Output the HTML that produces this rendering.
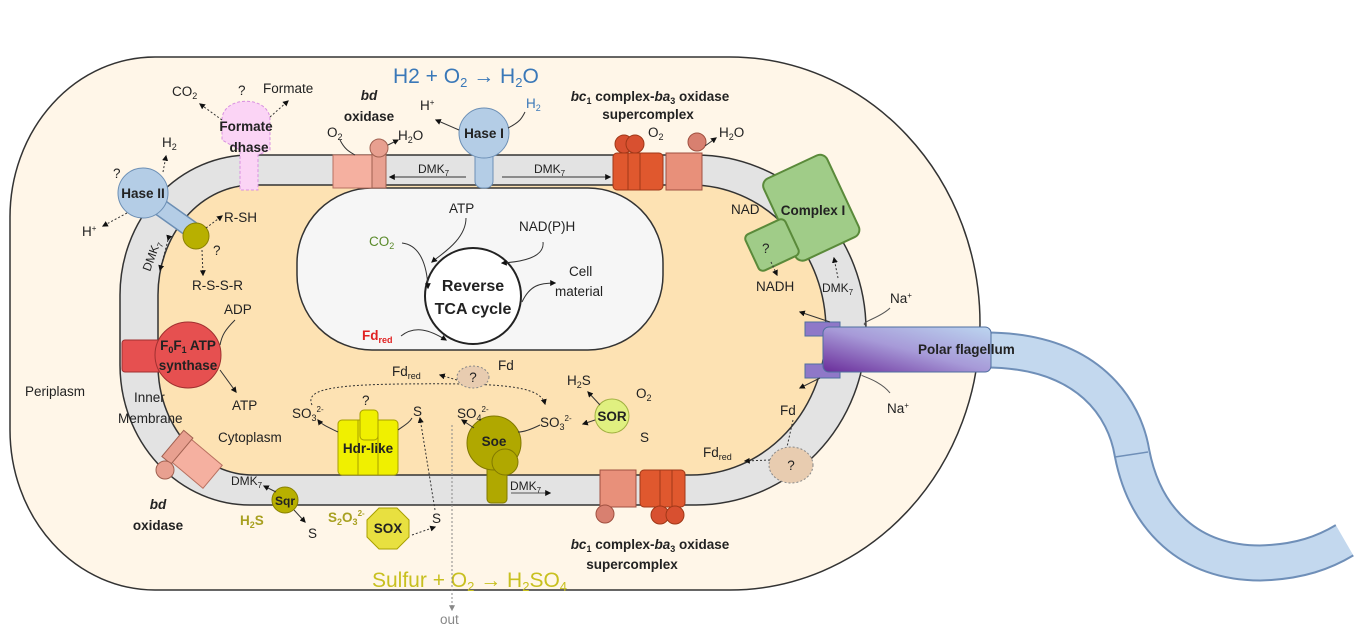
<!DOCTYPE html>
<html><head><meta charset="utf-8"><style>
body{margin:0;background:#fff}
svg{display:block;font-family:"Liberation Sans",sans-serif}
text{font-size:13.5px;fill:#222}
.b{font-weight:bold}
</style></head><body>
<svg width="1362" height="644" viewBox="0 0 1362 644" xmlns="http://www.w3.org/2000/svg">
<defs>
<marker id="a" viewBox="0 0 10 10" refX="8" refY="5" markerWidth="6" markerHeight="6" orient="auto"><path d="M0,0L10,5L0,10z" fill="#111"/></marker>
<marker id="g" viewBox="0 0 10 10" refX="8" refY="5" markerWidth="6" markerHeight="6" orient="auto"><path d="M0,0L10,5L0,10z" fill="#888"/></marker>
<linearGradient id="fl" x1="0" y1="1" x2="1" y2="0"><stop offset="0" stop-color="#6a2c9a"/><stop offset="0.5" stop-color="#a79ad8"/><stop offset="1" stop-color="#bcd6f0"/></linearGradient>
</defs>
<!-- flagellum tail -->
<path d="M985,350 C1090,350 1125,410 1132,453 C1145,520 1190,563 1260,563 C1300,562 1325,552 1345,540" fill="none" stroke="#6f8fb8" stroke-width="37"/>
<path d="M985,350 C1090,350 1125,410 1132,453 C1145,520 1190,563 1260,563 C1300,562 1325,552 1345,540" fill="none" stroke="#c3d8ee" stroke-width="33"/>
<line x1="1115" y1="457" x2="1148" y2="452" stroke="#6f8fb8" stroke-width="1.5"/>
<rect x="1346" y="515" width="20" height="50" fill="#fff" transform="rotate(-30 1356 540)"/>
<!-- outer cell -->
<path d="M155,57 L730,57 A250,266.5 0 0 1 730,590 L155,590 A145,160 0 0 1 10,430 L10,217 A145,160 0 0 1 155,57 Z" fill="#fff6e8" stroke="#333" stroke-width="1.5"/>
<!-- membrane -->
<path d="M250,155 L696,155 A170,175 0 0 1 696,505 L250,505 A130,140 0 0 1 120,365 L120,295 A130,140 0 0 1 250,155 Z" fill="#e3e3e3" stroke="#333" stroke-width="1.5"/>
<path d="M253,185 L691,185 A135,145 0 0 1 691,475 L253,475 A95,110 0 0 1 158,365 L158,295 A95,110 0 0 1 253,185 Z" fill="#fde2b3" stroke="#333" stroke-width="1.5"/>
<!-- inner box -->
<rect x="297" y="188" width="366" height="162" rx="75" fill="#f6f6f6" stroke="#333" stroke-width="1.5"/>
<circle cx="473" cy="296" r="48" fill="#fff" stroke="#222" stroke-width="2"/>
<text x="473" y="291" text-anchor="middle" class="b" style="font-size:16px">Reverse</text>
<text x="473" y="314" text-anchor="middle" class="b" style="font-size:16px">TCA cycle</text>
<text x="449" y="213">ATP</text><text x="519" y="231">NAD(P)H</text>
<text x="369" y="246" style="fill:#5a8a2a">CO<tspan style="font-size:9px" dy="3">2</tspan></text>
<text x="569" y="276">Cell</text><text x="555" y="296">material</text>
<text x="362" y="340" class="b" style="fill:#e02020">Fd<tspan style="font-size:9px" dy="3">red</tspan></text>
<path d="M466,218 C466,240 440,255 432,262" fill="none" stroke="#333" marker-end="url(#a)"/>
<path d="M543,242 C545,258 520,262 502,263" fill="none" stroke="#333" marker-end="url(#a)"/>
<path d="M402,243 C420,245 427,265 428,288" fill="none" stroke="#333" marker-end="url(#a)"/>
<path d="M522,302 C530,285 540,283 555,283" fill="none" stroke="#333" marker-end="url(#a)"/>
<path d="M401,336 C415,325 430,330 446,340" fill="none" stroke="#333" marker-end="url(#a)"/>
<!-- titles -->
<text x="393" y="83" style="font-size:21px;fill:#3a78b8">H2 + O<tspan style="font-size:13px" dy="4">2</tspan><tspan dy="-4"> → H</tspan><tspan style="font-size:13px" dy="4">2</tspan><tspan dy="-4">O</tspan></text>
<text x="372" y="587" style="font-size:21px;fill:#c8c020">Sulfur + O<tspan style="font-size:13px" dy="4">2</tspan><tspan dy="-4"> → H</tspan><tspan style="font-size:13px" dy="4">2</tspan><tspan dy="-4">SO</tspan><tspan style="font-size:13px" dy="4">4</tspan></text>
<!-- formate dhase -->
<path d="M222,120 C222,95 270,95 270,120 L270,150 L258,155 L258,190 L240,190 L240,150 L222,140z" fill="#fbd4f5" stroke="#d890e0" stroke-dasharray="3,2"/>
<text x="246" y="131" text-anchor="middle" class="b">Formate</text><text x="249" y="152" text-anchor="middle" class="b">dhase</text>
<text x="172" y="96">CO<tspan style="font-size:9px" dy="3">2</tspan></text><text x="238" y="95">?</text><text x="263" y="93">Formate</text>
<path d="M222,120 L200,104" fill="none" stroke="#333" stroke-dasharray="2,2" marker-end="url(#a)"/>
<path d="M270,117 L288,101" fill="none" stroke="#333" stroke-dasharray="2,2" marker-end="url(#a)"/>
<!-- Hase II -->
<path d="M150,200 L195,232" stroke="#6c8fb5" stroke-width="18"/><path d="M150,200 L195,232" stroke="#b4cde6" stroke-width="15"/>
<circle cx="143" cy="193" r="25" fill="#b4cde6" stroke="#6c8fb5"/>
<text x="143" y="198" text-anchor="middle" class="b">Hase II</text>
<circle cx="196" cy="236" r="13" fill="#b8b000" stroke="#888000"/>
<text x="162" y="147">H<tspan style="font-size:9px" dy="3">2</tspan></text><text x="113" y="178">?</text>
<text x="82" y="236">H<tspan style="font-size:8px" dy="-5">+</tspan></text>
<path d="M163,172 L166,156" stroke="#333" stroke-dasharray="2,2" marker-end="url(#a)"/>
<path d="M127,213 L103,226" stroke="#333" stroke-dasharray="2,2" marker-end="url(#a)"/>
<text x="224" y="222">R-SH</text><text x="213" y="255">?</text><text x="192" y="290">R-S-S-R</text>
<path d="M206,228 L222,216" stroke="#333" stroke-dasharray="2,2" marker-end="url(#a)"/>
<path d="M202,250 L203,275" stroke="#333" stroke-dasharray="2,2" marker-end="url(#a)"/>
<text x="150" y="272" transform="rotate(-70 150 272)" style="font-size:12px">DMK<tspan style="font-size:8px" dy="3">7</tspan></text>
<path d="M168,240 L160,270" stroke="#333" stroke-dasharray="2,2" marker-end="url(#a)" marker-start="url(#a)"/>
<!-- bd oxidase top -->
<rect x="333" y="155" width="52" height="33" fill="#f5b0a0" stroke="#b87060"/>
<rect x="372" y="150" width="14" height="38" fill="#e8a090" stroke="#a06050"/>
<circle cx="379" cy="148" r="9" fill="#e8a090" stroke="#a06050"/>
<text x="369" y="100" text-anchor="middle" class="b" style="font-style:italic">bd</text>
<text x="369" y="121" text-anchor="middle" class="b">oxidase</text>
<text x="327" y="137">O<tspan style="font-size:9px" dy="3">2</tspan></text><text x="398" y="140">H<tspan style="font-size:9px" dy="3">2</tspan><tspan dy="-3">O</tspan></text>
<path d="M340,140 C345,150 350,152 355,155" fill="none" stroke="#333"/>
<path d="M388,145 L398,140" stroke="#333" marker-end="url(#a)"/>
<!-- Hase I -->
<rect x="475" y="150" width="18" height="38" rx="7" fill="#b4cde6" stroke="#6c8fb5"/>
<circle cx="484" cy="133" r="25" fill="#b4cde6" stroke="#6c8fb5"/>
<text x="484" y="138" text-anchor="middle" class="b">Hase I</text>
<text x="420" y="110">H<tspan style="font-size:8px" dy="-5">+</tspan></text>
<text x="526" y="108" style="fill:#3a78b8">H<tspan style="font-size:9px" dy="3">2</tspan></text>
<path d="M459,130 L436,120" stroke="#333" marker-end="url(#a)"/>
<path d="M508,128 C520,122 522,118 525,112" fill="none" stroke="#333"/>
<text x="418" y="173" style="font-size:12px">DMK<tspan style="font-size:8px" dy="3">7</tspan></text>
<text x="534" y="173" style="font-size:12px">DMK<tspan style="font-size:8px" dy="3">7</tspan></text>
<path d="M466,177 L390,177" stroke="#333" marker-end="url(#a)"/>
<path d="M502,177 L610,177" stroke="#333" marker-end="url(#a)"/>
<!-- bc1 top -->
<rect x="613" y="153" width="50" height="37" rx="4" fill="#e0582e" stroke="#a03818"/>
<line x1="628" y1="153" x2="628" y2="190" stroke="#a03818"/><line x1="640" y1="153" x2="640" y2="190" stroke="#a03818"/>
<circle cx="624" cy="144" r="9" fill="#d85030" stroke="#a03818"/><circle cx="635" cy="144" r="9" fill="#d85030" stroke="#a03818"/>
<rect x="666" y="153" width="36" height="37" fill="#e8907a" stroke="#a05040"/>
<circle cx="697" cy="142" r="9" fill="#d88070" stroke="#a05040"/>
<text x="650" y="101" text-anchor="middle" class="b"><tspan style="font-style:italic">bc</tspan><tspan style="font-size:9px" dy="3">1</tspan><tspan dy="-3"> complex-</tspan><tspan style="font-style:italic">ba</tspan><tspan style="font-size:9px" dy="3">3</tspan><tspan dy="-3"> oxidase</tspan></text>
<text x="648" y="119" text-anchor="middle" class="b">supercomplex</text>
<text x="648" y="137">O<tspan style="font-size:9px" dy="3">2</tspan></text><text x="719" y="137">H<tspan style="font-size:9px" dy="3">2</tspan><tspan dy="-3">O</tspan></text>
<path d="M705,146 L716,138" stroke="#333" marker-end="url(#a)"/>
<!-- complex I -->
<g transform="rotate(-25 810 205)"><rect x="775" y="163" width="70" height="90" rx="8" fill="#a0cc88" stroke="#5a8a3a" stroke-width="2"/></g>
<g transform="rotate(-25 772 245)"><rect x="750" y="225" width="44" height="40" rx="5" fill="#a0cc88" stroke="#5a8a3a" stroke-width="2"/></g>
<text x="813" y="215" text-anchor="middle" class="b">Complex I</text>
<text x="762" y="253">?</text>
<text x="731" y="214">NAD</text><text x="756" y="291">NADH</text>
<text x="822" y="292" style="font-size:12px">DMK<tspan style="font-size:8px" dy="3">7</tspan></text>
<path d="M771,262 L777,275" stroke="#333" stroke-dasharray="2,2" marker-end="url(#a)"/>
<path d="M838,278 L834,258" stroke="#333" stroke-dasharray="2,2" marker-end="url(#a)"/>
<!-- flagellum motor -->
<rect x="805" y="322" width="35" height="14" fill="#8f78c8" stroke="#4f6f9f"/>
<rect x="805" y="364" width="35" height="14" fill="#8f78c8" stroke="#4f6f9f"/>
<rect x="823" y="327" width="168" height="45" rx="6" fill="url(#fl)" stroke="#4f6f9f"/>
<text x="918" y="354" class="b">Polar flagellum</text>
<text x="890" y="303">Na<tspan style="font-size:8px" dy="-5">+</tspan></text>
<text x="887" y="413">Na<tspan style="font-size:8px" dy="-5">+</tspan></text>
<path d="M890,308 C880,318 860,322 865,325" fill="none" stroke="#555"/>
<path d="M890,393 C880,380 860,376 862,375" fill="none" stroke="#555"/>
<path d="M830,322 L800,312" stroke="#333" marker-end="url(#a)"/>
<path d="M820,378 L800,388" stroke="#333" marker-end="url(#a)"/>
<text x="780" y="415">Fd</text><text x="703" y="457">Fd<tspan style="font-size:9px" dy="3">red</tspan></text>
<ellipse cx="791" cy="465" rx="22" ry="18" fill="#e8ccb0" stroke="#888" stroke-dasharray="2,2"/>
<text x="791" y="470" text-anchor="middle">?</text>
<path d="M793,420 L787,447" stroke="#333" stroke-dasharray="2,2"/>
<path d="M770,460 L745,461" stroke="#333" stroke-dasharray="2,2" marker-end="url(#a)"/>
<!-- ATP synthase -->
<rect x="122" y="340" width="60" height="32" rx="3" fill="#e65050" stroke="#a03030"/>
<circle cx="188" cy="355" r="33" fill="#e65050" stroke="#a03030"/>
<text x="188" y="350" text-anchor="middle" class="b">F<tspan style="font-size:9px" dy="3">0</tspan><tspan dy="-3">F</tspan><tspan style="font-size:9px" dy="3">1</tspan><tspan dy="-3"> ATP</tspan></text>
<text x="188" y="370" text-anchor="middle" class="b">synthase</text>
<text x="224" y="314">ADP</text><text x="232" y="410">ATP</text>
<path d="M235,320 C225,330 222,335 220,345" fill="none" stroke="#333"/>
<path d="M220,370 L236,392" stroke="#333" marker-end="url(#a)"/>
<text x="25" y="396">Periplasm</text>
<text x="134" y="402">Inner</text><text x="118" y="423">Membrane</text>
<text x="218" y="442">Cytoplasm</text>
<!-- bd oxidase bottom -->
<g transform="rotate(40 195 462)"><rect x="172" y="447" width="46" height="30" fill="#f5b0a0" stroke="#b87060"/><rect x="166" y="445" width="12" height="34" fill="#e8a090" stroke="#a06050"/></g>
<circle cx="165" cy="470" r="9" fill="#e8a090" stroke="#a06050"/>
<text x="158" y="509" text-anchor="middle" class="b" style="font-style:italic">bd</text>
<text x="158" y="530" text-anchor="middle" class="b">oxidase</text>
<!-- Sqr -->
<circle cx="285" cy="500" r="13" fill="#b8b000" stroke="#888000"/>
<text x="285" y="505" text-anchor="middle" class="b" style="font-size:12px">Sqr</text>
<text x="231" y="485" style="font-size:12px">DMK<tspan style="font-size:8px" dy="3">7</tspan></text>
<text x="240" y="525" class="b" style="fill:#a8a020">H<tspan style="font-size:9px" dy="3">2</tspan><tspan dy="-3">S</tspan></text>
<text x="308" y="538">S</text>
<path d="M276,492 L264,486" stroke="#333" marker-end="url(#a)"/>
<path d="M294,510 L305,522" stroke="#333" marker-end="url(#a)"/>
<!-- SOX -->
<polygon points="379,508 397,508 409,520 409,537 397,549 379,549 367,537 367,520" fill="#e8e040" stroke="#a8a000"/>
<text x="388" y="533" text-anchor="middle" class="b">SOX</text>
<text x="328" y="522" class="b" style="fill:#a8a020">S<tspan style="font-size:9px" dy="3">2</tspan><tspan dy="-3">O</tspan><tspan style="font-size:9px" dy="3">3</tspan><tspan style="font-size:8px" dy="-9">2-</tspan></text>
<text x="432" y="523">S</text>
<path d="M412,535 L435,527" stroke="#333" stroke-dasharray="2,2" marker-end="url(#a)"/>
<path d="M435,510 L420,418" stroke="#333" stroke-dasharray="2,2" marker-end="url(#a)"/>
<!-- Hdr-like -->
<rect x="338" y="420" width="60" height="55" rx="4" fill="#f0f000" stroke="#a8a000"/>
<line x1="358" y1="420" x2="358" y2="475" stroke="#a8a000"/><line x1="378" y1="420" x2="378" y2="475" stroke="#a8a000"/>
<rect x="360" y="410" width="18" height="30" rx="4" fill="#f0f000" stroke="#a8a000"/>
<text x="368" y="453" text-anchor="middle" class="b">Hdr-like</text>
<text x="292" y="418">SO<tspan style="font-size:9px" dy="3">3</tspan><tspan style="font-size:8px" dy="-9">2-</tspan></text>
<text x="362" y="405">?</text><text x="413" y="416">S</text>
<path d="M338,432 C330,428 322,425 318,420" fill="none" stroke="#333" marker-end="url(#a)"/>
<path d="M398,430 C405,425 410,422 412,418" fill="none" stroke="#333"/>
<path d="M312,405 C305,390 330,385 400,384 C500,383 540,385 545,404" fill="none" stroke="#333" stroke-dasharray="2,2" marker-end="url(#a)"/>
<!-- Soe -->
<rect x="487" y="455" width="20" height="48" rx="4" fill="#b0a800" stroke="#807800"/>
<circle cx="494" cy="443" r="27" fill="#b0a800" stroke="#807800"/>
<circle cx="505" cy="462" r="13" fill="#b0a800" stroke="#807800"/>
<text x="494" y="446" text-anchor="middle" class="b">Soe</text>
<text x="457" y="418">SO<tspan style="font-size:9px" dy="3">4</tspan><tspan style="font-size:8px" dy="-9">2-</tspan></text>
<text x="510" y="490" style="font-size:12px">DMK<tspan style="font-size:8px" dy="3">7</tspan></text>
<path d="M511,493 L550,493" stroke="#555" marker-end="url(#a)"/>
<path d="M474,428 L462,420" stroke="#333" marker-end="url(#a)"/>
<path d="M452,425 L452,610" stroke="#888" stroke-dasharray="2,2" marker-end="url(#g)"/>
<text x="440" y="624" style="fill:#888">out</text>
<!-- SOR / Fd -->
<text x="540" y="427">SO<tspan style="font-size:9px" dy="3">3</tspan><tspan style="font-size:8px" dy="-9">2-</tspan></text>
<path d="M540,425 C530,430 522,432 518,432" fill="none" stroke="#333"/>
<circle cx="612" cy="416" r="17" fill="#e0f080" stroke="#a0b040"/>
<text x="612" y="421" text-anchor="middle" class="b">SOR</text>
<text x="567" y="385">H<tspan style="font-size:9px" dy="3">2</tspan><tspan dy="-3">S</tspan></text>
<text x="636" y="398">O<tspan style="font-size:9px" dy="3">2</tspan></text><text x="640" y="442">S</text>
<path d="M600,405 L588,392" stroke="#333" marker-end="url(#a)"/>
<path d="M595,420 L583,424" stroke="#333" marker-end="url(#a)"/>
<ellipse cx="473" cy="377" rx="16" ry="11" fill="#e8ccb0" stroke="#888" stroke-dasharray="2,2"/>
<text x="473" y="382" text-anchor="middle">?</text>
<text x="392" y="376">Fd<tspan style="font-size:9px" dy="3">red</tspan></text><text x="498" y="370">Fd</text>
<path d="M457,380 L440,375" stroke="#333" stroke-dasharray="2,2" marker-end="url(#a)"/>
<!-- bc1 bottom -->
<rect x="600" y="470" width="36" height="37" fill="#e8907a" stroke="#a05040"/>
<circle cx="605" cy="514" r="9" fill="#d88070" stroke="#a05040"/>
<rect x="640" y="470" width="45" height="37" rx="4" fill="#e0582e" stroke="#a03818"/>
<line x1="660" y1="470" x2="660" y2="507" stroke="#a03818"/><line x1="672" y1="470" x2="672" y2="507" stroke="#a03818"/>
<circle cx="660" cy="515" r="9" fill="#d85030" stroke="#a03818"/><circle cx="675" cy="515" r="9" fill="#d85030" stroke="#a03818"/>
<text x="650" y="549" text-anchor="middle" class="b"><tspan style="font-style:italic">bc</tspan><tspan style="font-size:9px" dy="3">1</tspan><tspan dy="-3"> complex-</tspan><tspan style="font-style:italic">ba</tspan><tspan style="font-size:9px" dy="3">3</tspan><tspan dy="-3"> oxidase</tspan></text>
<text x="632" y="569" text-anchor="middle" class="b">supercomplex</text>
</svg>
</body></html>
